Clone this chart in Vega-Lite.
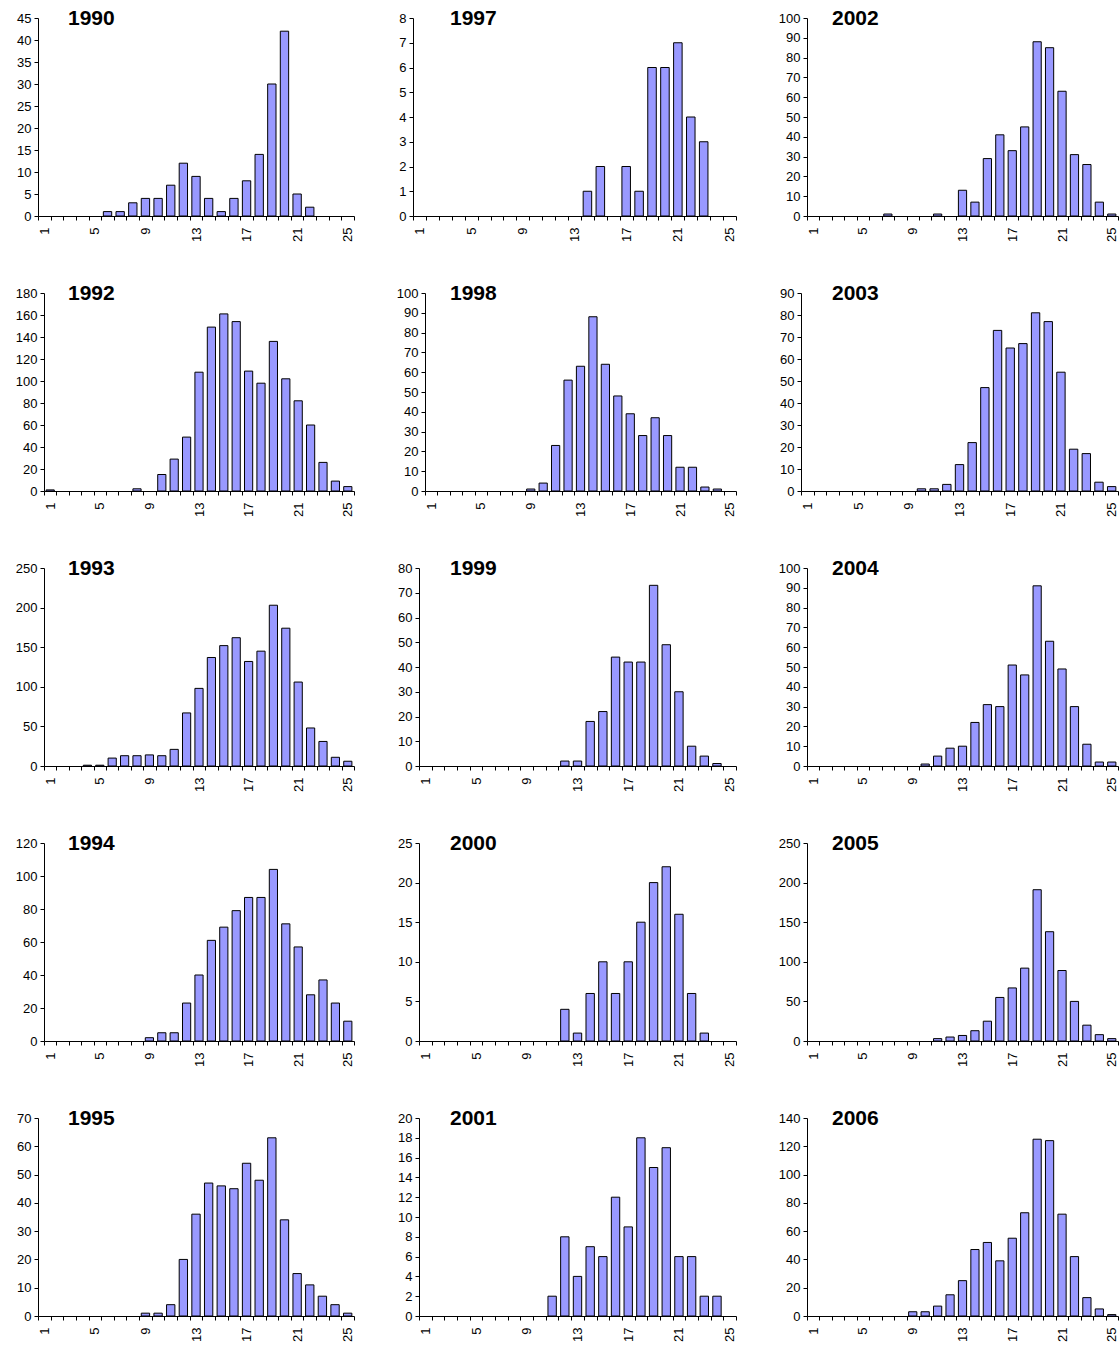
{
  "$schema": "https://vega.github.io/schema/vega-lite/v6.json",
  "padding": {"left": 2, "top": 8, "right": 0, "bottom": 0},
  "background": "#ffffff",
  "config": {
    "view": {"stroke": null},
    "font": "Liberation Sans",
    "axis": {"domainColor": "#000000", "tickColor": "#000000", "labelColor": "#000000", "grid": false, "labelFont": "Liberation Sans", "tickSize": 4, "domainWidth": 1, "tickWidth": 1, "title": null},
    "axisX": {"tickBand": "extent", "labelAngle": -90, "labelPadding": 7, "labelFontSize": 13, "minExtent": 30, "maxExtent": 30, "labelOverlap": false},
    "axisY": {"labelPadding": 3, "labelFontSize": 13},
    "title": {"anchor": "start", "frame": "group", "fontSize": 21, "fontWeight": "bold", "color": "#000000", "baseline": "alphabetic", "offset": -17, "font": "Liberation Sans"},
    "bar": {"fill": "#9999FF", "stroke": "#000000", "strokeWidth": 1}
  },
  "data": {"values": [
    {"year":1990,"bin":6,"count":1},{"year":1990,"bin":7,"count":1},{"year":1990,"bin":8,"count":3},{"year":1990,"bin":9,"count":4},{"year":1990,"bin":10,"count":4},{"year":1990,"bin":11,"count":7},{"year":1990,"bin":12,"count":12},{"year":1990,"bin":13,"count":9},{"year":1990,"bin":14,"count":4},{"year":1990,"bin":15,"count":1},{"year":1990,"bin":16,"count":4},{"year":1990,"bin":17,"count":8},{"year":1990,"bin":18,"count":14},{"year":1990,"bin":19,"count":30},{"year":1990,"bin":20,"count":42},{"year":1990,"bin":21,"count":5},{"year":1990,"bin":22,"count":2},
    {"year":1992,"bin":1,"count":1},{"year":1992,"bin":8,"count":2},{"year":1992,"bin":10,"count":15},{"year":1992,"bin":11,"count":29},{"year":1992,"bin":12,"count":49},{"year":1992,"bin":13,"count":108},{"year":1992,"bin":14,"count":149},{"year":1992,"bin":15,"count":161},{"year":1992,"bin":16,"count":154},{"year":1992,"bin":17,"count":109},{"year":1992,"bin":18,"count":98},{"year":1992,"bin":19,"count":136},{"year":1992,"bin":20,"count":102},{"year":1992,"bin":21,"count":82},{"year":1992,"bin":22,"count":60},{"year":1992,"bin":23,"count":26},{"year":1992,"bin":24,"count":9},{"year":1992,"bin":25,"count":4},
    {"year":1993,"bin":4,"count":1},{"year":1993,"bin":5,"count":1},{"year":1993,"bin":6,"count":10},{"year":1993,"bin":7,"count":13},{"year":1993,"bin":8,"count":13},{"year":1993,"bin":9,"count":14},{"year":1993,"bin":10,"count":13},{"year":1993,"bin":11,"count":21},{"year":1993,"bin":12,"count":67},{"year":1993,"bin":13,"count":98},{"year":1993,"bin":14,"count":137},{"year":1993,"bin":15,"count":152},{"year":1993,"bin":16,"count":162},{"year":1993,"bin":17,"count":132},{"year":1993,"bin":18,"count":145},{"year":1993,"bin":19,"count":203},{"year":1993,"bin":20,"count":174},{"year":1993,"bin":21,"count":106},{"year":1993,"bin":22,"count":48},{"year":1993,"bin":23,"count":31},{"year":1993,"bin":24,"count":11},{"year":1993,"bin":25,"count":6},
    {"year":1994,"bin":9,"count":2},{"year":1994,"bin":10,"count":5},{"year":1994,"bin":11,"count":5},{"year":1994,"bin":12,"count":23},{"year":1994,"bin":13,"count":40},{"year":1994,"bin":14,"count":61},{"year":1994,"bin":15,"count":69},{"year":1994,"bin":16,"count":79},{"year":1994,"bin":17,"count":87},{"year":1994,"bin":18,"count":87},{"year":1994,"bin":19,"count":104},{"year":1994,"bin":20,"count":71},{"year":1994,"bin":21,"count":57},{"year":1994,"bin":22,"count":28},{"year":1994,"bin":23,"count":37},{"year":1994,"bin":24,"count":23},{"year":1994,"bin":25,"count":12},
    {"year":1995,"bin":9,"count":1},{"year":1995,"bin":10,"count":1},{"year":1995,"bin":11,"count":4},{"year":1995,"bin":12,"count":20},{"year":1995,"bin":13,"count":36},{"year":1995,"bin":14,"count":47},{"year":1995,"bin":15,"count":46},{"year":1995,"bin":16,"count":45},{"year":1995,"bin":17,"count":54},{"year":1995,"bin":18,"count":48},{"year":1995,"bin":19,"count":63},{"year":1995,"bin":20,"count":34},{"year":1995,"bin":21,"count":15},{"year":1995,"bin":22,"count":11},{"year":1995,"bin":23,"count":7},{"year":1995,"bin":24,"count":4},{"year":1995,"bin":25,"count":1},
    {"year":1997,"bin":14,"count":1},{"year":1997,"bin":15,"count":2},{"year":1997,"bin":17,"count":2},{"year":1997,"bin":18,"count":1},{"year":1997,"bin":19,"count":6},{"year":1997,"bin":20,"count":6},{"year":1997,"bin":21,"count":7},{"year":1997,"bin":22,"count":4},{"year":1997,"bin":23,"count":3},
    {"year":1998,"bin":9,"count":1},{"year":1998,"bin":10,"count":4},{"year":1998,"bin":11,"count":23},{"year":1998,"bin":12,"count":56},{"year":1998,"bin":13,"count":63},{"year":1998,"bin":14,"count":88},{"year":1998,"bin":15,"count":64},{"year":1998,"bin":16,"count":48},{"year":1998,"bin":17,"count":39},{"year":1998,"bin":18,"count":28},{"year":1998,"bin":19,"count":37},{"year":1998,"bin":20,"count":28},{"year":1998,"bin":21,"count":12},{"year":1998,"bin":22,"count":12},{"year":1998,"bin":23,"count":2},{"year":1998,"bin":24,"count":1},
    {"year":1999,"bin":12,"count":2},{"year":1999,"bin":13,"count":2},{"year":1999,"bin":14,"count":18},{"year":1999,"bin":15,"count":22},{"year":1999,"bin":16,"count":44},{"year":1999,"bin":17,"count":42},{"year":1999,"bin":18,"count":42},{"year":1999,"bin":19,"count":73},{"year":1999,"bin":20,"count":49},{"year":1999,"bin":21,"count":30},{"year":1999,"bin":22,"count":8},{"year":1999,"bin":23,"count":4},{"year":1999,"bin":24,"count":1},
    {"year":2000,"bin":12,"count":4},{"year":2000,"bin":13,"count":1},{"year":2000,"bin":14,"count":6},{"year":2000,"bin":15,"count":10},{"year":2000,"bin":16,"count":6},{"year":2000,"bin":17,"count":10},{"year":2000,"bin":18,"count":15},{"year":2000,"bin":19,"count":20},{"year":2000,"bin":20,"count":22},{"year":2000,"bin":21,"count":16},{"year":2000,"bin":22,"count":6},{"year":2000,"bin":23,"count":1},
    {"year":2001,"bin":11,"count":2},{"year":2001,"bin":12,"count":8},{"year":2001,"bin":13,"count":4},{"year":2001,"bin":14,"count":7},{"year":2001,"bin":15,"count":6},{"year":2001,"bin":16,"count":12},{"year":2001,"bin":17,"count":9},{"year":2001,"bin":18,"count":18},{"year":2001,"bin":19,"count":15},{"year":2001,"bin":20,"count":17},{"year":2001,"bin":21,"count":6},{"year":2001,"bin":22,"count":6},{"year":2001,"bin":23,"count":2},{"year":2001,"bin":24,"count":2},
    {"year":2002,"bin":7,"count":1},{"year":2002,"bin":11,"count":1},{"year":2002,"bin":13,"count":13},{"year":2002,"bin":14,"count":7},{"year":2002,"bin":15,"count":29},{"year":2002,"bin":16,"count":41},{"year":2002,"bin":17,"count":33},{"year":2002,"bin":18,"count":45},{"year":2002,"bin":19,"count":88},{"year":2002,"bin":20,"count":85},{"year":2002,"bin":21,"count":63},{"year":2002,"bin":22,"count":31},{"year":2002,"bin":23,"count":26},{"year":2002,"bin":24,"count":7},{"year":2002,"bin":25,"count":1},
    {"year":2003,"bin":10,"count":1},{"year":2003,"bin":11,"count":1},{"year":2003,"bin":12,"count":3},{"year":2003,"bin":13,"count":12},{"year":2003,"bin":14,"count":22},{"year":2003,"bin":15,"count":47},{"year":2003,"bin":16,"count":73},{"year":2003,"bin":17,"count":65},{"year":2003,"bin":18,"count":67},{"year":2003,"bin":19,"count":81},{"year":2003,"bin":20,"count":77},{"year":2003,"bin":21,"count":54},{"year":2003,"bin":22,"count":19},{"year":2003,"bin":23,"count":17},{"year":2003,"bin":24,"count":4},{"year":2003,"bin":25,"count":2},
    {"year":2004,"bin":10,"count":1},{"year":2004,"bin":11,"count":5},{"year":2004,"bin":12,"count":9},{"year":2004,"bin":13,"count":10},{"year":2004,"bin":14,"count":22},{"year":2004,"bin":15,"count":31},{"year":2004,"bin":16,"count":30},{"year":2004,"bin":17,"count":51},{"year":2004,"bin":18,"count":46},{"year":2004,"bin":19,"count":91},{"year":2004,"bin":20,"count":63},{"year":2004,"bin":21,"count":49},{"year":2004,"bin":22,"count":30},{"year":2004,"bin":23,"count":11},{"year":2004,"bin":24,"count":2},{"year":2004,"bin":25,"count":2},
    {"year":2005,"bin":11,"count":3},{"year":2005,"bin":12,"count":5},{"year":2005,"bin":13,"count":7},{"year":2005,"bin":14,"count":13},{"year":2005,"bin":15,"count":25},{"year":2005,"bin":16,"count":55},{"year":2005,"bin":17,"count":67},{"year":2005,"bin":18,"count":92},{"year":2005,"bin":19,"count":191},{"year":2005,"bin":20,"count":138},{"year":2005,"bin":21,"count":89},{"year":2005,"bin":22,"count":50},{"year":2005,"bin":23,"count":20},{"year":2005,"bin":24,"count":8},{"year":2005,"bin":25,"count":3},
    {"year":2006,"bin":9,"count":3},{"year":2006,"bin":10,"count":3},{"year":2006,"bin":11,"count":7},{"year":2006,"bin":12,"count":15},{"year":2006,"bin":13,"count":25},{"year":2006,"bin":14,"count":47},{"year":2006,"bin":15,"count":52},{"year":2006,"bin":16,"count":39},{"year":2006,"bin":17,"count":55},{"year":2006,"bin":18,"count":73},{"year":2006,"bin":19,"count":125},{"year":2006,"bin":20,"count":124},{"year":2006,"bin":21,"count":72},{"year":2006,"bin":22,"count":42},{"year":2006,"bin":23,"count":13},{"year":2006,"bin":24,"count":5},{"year":2006,"bin":25,"count":1}
  ]},
  "spacing": 22,
  "hconcat": [
    {"spacing": 37, "vconcat": [
      {"title": {"text": "1990", "dx": 30}, "width": 316, "height": 198, "transform": [{"filter": "datum.year == 1990"}], "mark": {"type": "bar", "width": {"band": 0.66}},
       "encoding": {"x": {"field": "bin", "type": "ordinal", "scale": {"domain": [1,2,3,4,5,6,7,8,9,10,11,12,13,14,15,16,17,18,19,20,21,22,23,24,25], "range": [0, 316], "paddingInner": 0, "paddingOuter": 0}, "axis": {"labelExpr": "(datum.value - 1) % 4 == 0 ? datum.label : ''"}},
        "y": {"field": "count", "type": "quantitative", "scale": {"domain": [0, 45], "nice": false}, "axis": {"values": [0,5,10,15,20,25,30,35,40,45], "offset": 0, "minExtent": 36}}}},
      {"title": {"text": "1992", "dx": 30}, "width": 316, "height": 198, "transform": [{"filter": "datum.year == 1992"}], "mark": {"type": "bar", "width": {"band": 0.66}},
       "encoding": {"x": {"field": "bin", "type": "ordinal", "scale": {"domain": [1,2,3,4,5,6,7,8,9,10,11,12,13,14,15,16,17,18,19,20,21,22,23,24,25], "range": [6, 316], "paddingInner": 0, "paddingOuter": 0}, "axis": {"labelExpr": "(datum.value - 1) % 4 == 0 ? datum.label : ''"}},
        "y": {"field": "count", "type": "quantitative", "scale": {"domain": [0, 180], "nice": false}, "axis": {"values": [0,20,40,60,80,100,120,140,160,180], "offset": -6, "minExtent": 36}}}},
      {"title": {"text": "1993", "dx": 30}, "width": 316, "height": 198, "transform": [{"filter": "datum.year == 1993"}], "mark": {"type": "bar", "width": {"band": 0.66}},
       "encoding": {"x": {"field": "bin", "type": "ordinal", "scale": {"domain": [1,2,3,4,5,6,7,8,9,10,11,12,13,14,15,16,17,18,19,20,21,22,23,24,25], "range": [6, 316], "paddingInner": 0, "paddingOuter": 0}, "axis": {"labelExpr": "(datum.value - 1) % 4 == 0 ? datum.label : ''"}},
        "y": {"field": "count", "type": "quantitative", "scale": {"domain": [0, 250], "nice": false}, "axis": {"values": [0,50,100,150,200,250], "offset": -6, "minExtent": 36}}}},
      {"title": {"text": "1994", "dx": 30}, "width": 316, "height": 198, "transform": [{"filter": "datum.year == 1994"}], "mark": {"type": "bar", "width": {"band": 0.66}},
       "encoding": {"x": {"field": "bin", "type": "ordinal", "scale": {"domain": [1,2,3,4,5,6,7,8,9,10,11,12,13,14,15,16,17,18,19,20,21,22,23,24,25], "range": [6, 316], "paddingInner": 0, "paddingOuter": 0}, "axis": {"labelExpr": "(datum.value - 1) % 4 == 0 ? datum.label : ''"}},
        "y": {"field": "count", "type": "quantitative", "scale": {"domain": [0, 120], "nice": false}, "axis": {"values": [0,20,40,60,80,100,120], "offset": -6, "minExtent": 36}}}},
      {"title": {"text": "1995", "dx": 30}, "width": 316, "height": 198, "transform": [{"filter": "datum.year == 1995"}], "mark": {"type": "bar", "width": {"band": 0.66}},
       "encoding": {"x": {"field": "bin", "type": "ordinal", "scale": {"domain": [1,2,3,4,5,6,7,8,9,10,11,12,13,14,15,16,17,18,19,20,21,22,23,24,25], "range": [0, 316], "paddingInner": 0, "paddingOuter": 0}, "axis": {"labelExpr": "(datum.value - 1) % 4 == 0 ? datum.label : ''"}},
        "y": {"field": "count", "type": "quantitative", "scale": {"domain": [0, 70], "nice": false}, "axis": {"values": [0,10,20,30,40,50,60,70], "offset": 0, "minExtent": 36}}}}
    ]},
    {"spacing": 37, "vconcat": [
      {"title": {"text": "1997", "dx": 37}, "width": 323, "height": 198, "transform": [{"filter": "datum.year == 1997"}], "mark": {"type": "bar", "width": {"band": 0.66}},
       "encoding": {"x": {"field": "bin", "type": "ordinal", "scale": {"domain": [1,2,3,4,5,6,7,8,9,10,11,12,13,14,15,16,17,18,19,20,21,22,23,24,25], "range": [0, 323], "paddingInner": 0, "paddingOuter": 0}, "axis": {"labelExpr": "(datum.value - 1) % 4 == 0 ? datum.label : ''"}},
        "y": {"field": "count", "type": "quantitative", "scale": {"domain": [0, 8], "nice": false}, "axis": {"values": [0,1,2,3,4,5,6,7,8], "offset": 0, "minExtent": 36}}}},
      {"title": {"text": "1998", "dx": 37}, "width": 323, "height": 198, "transform": [{"filter": "datum.year == 1998"}], "mark": {"type": "bar", "width": {"band": 0.66}},
       "encoding": {"x": {"field": "bin", "type": "ordinal", "scale": {"domain": [1,2,3,4,5,6,7,8,9,10,11,12,13,14,15,16,17,18,19,20,21,22,23,24,25], "range": [12, 323], "paddingInner": 0, "paddingOuter": 0}, "axis": {"labelExpr": "(datum.value - 1) % 4 == 0 ? datum.label : ''"}},
        "y": {"field": "count", "type": "quantitative", "scale": {"domain": [0, 100], "nice": false}, "axis": {"values": [0,10,20,30,40,50,60,70,80,90,100], "offset": -12, "minExtent": 36}}}},
      {"title": {"text": "1999", "dx": 37}, "width": 323, "height": 198, "transform": [{"filter": "datum.year == 1999"}], "mark": {"type": "bar", "width": {"band": 0.66}},
       "encoding": {"x": {"field": "bin", "type": "ordinal", "scale": {"domain": [1,2,3,4,5,6,7,8,9,10,11,12,13,14,15,16,17,18,19,20,21,22,23,24,25], "range": [6, 323], "paddingInner": 0, "paddingOuter": 0}, "axis": {"labelExpr": "(datum.value - 1) % 4 == 0 ? datum.label : ''"}},
        "y": {"field": "count", "type": "quantitative", "scale": {"domain": [0, 80], "nice": false}, "axis": {"values": [0,10,20,30,40,50,60,70,80], "offset": -6, "minExtent": 36}}}},
      {"title": {"text": "2000", "dx": 37}, "width": 323, "height": 198, "transform": [{"filter": "datum.year == 2000"}], "mark": {"type": "bar", "width": {"band": 0.66}},
       "encoding": {"x": {"field": "bin", "type": "ordinal", "scale": {"domain": [1,2,3,4,5,6,7,8,9,10,11,12,13,14,15,16,17,18,19,20,21,22,23,24,25], "range": [6, 323], "paddingInner": 0, "paddingOuter": 0}, "axis": {"labelExpr": "(datum.value - 1) % 4 == 0 ? datum.label : ''"}},
        "y": {"field": "count", "type": "quantitative", "scale": {"domain": [0, 25], "nice": false}, "axis": {"values": [0,5,10,15,20,25], "offset": -6, "minExtent": 36}}}},
      {"title": {"text": "2001", "dx": 37}, "width": 323, "height": 198, "transform": [{"filter": "datum.year == 2001"}], "mark": {"type": "bar", "width": {"band": 0.66}},
       "encoding": {"x": {"field": "bin", "type": "ordinal", "scale": {"domain": [1,2,3,4,5,6,7,8,9,10,11,12,13,14,15,16,17,18,19,20,21,22,23,24,25], "range": [6, 323], "paddingInner": 0, "paddingOuter": 0}, "axis": {"labelExpr": "(datum.value - 1) % 4 == 0 ? datum.label : ''"}},
        "y": {"field": "count", "type": "quantitative", "scale": {"domain": [0, 20], "nice": false}, "axis": {"values": [0,2,4,6,8,10,12,14,16,18,20], "offset": -6, "minExtent": 36}}}}
    ]},
    {"spacing": 37, "vconcat": [
      {"title": {"text": "2002", "dx": 31}, "width": 317, "height": 198, "transform": [{"filter": "datum.year == 2002"}], "mark": {"type": "bar", "width": {"band": 0.66}},
       "encoding": {"x": {"field": "bin", "type": "ordinal", "scale": {"domain": [1,2,3,4,5,6,7,8,9,10,11,12,13,14,15,16,17,18,19,20,21,22,23,24,25], "range": [6, 317], "paddingInner": 0, "paddingOuter": 0}, "axis": {"labelExpr": "(datum.value - 1) % 4 == 0 ? datum.label : ''"}},
        "y": {"field": "count", "type": "quantitative", "scale": {"domain": [0, 100], "nice": false}, "axis": {"values": [0,10,20,30,40,50,60,70,80,90,100], "offset": -6, "minExtent": 42}}}},
      {"title": {"text": "2003", "dx": 31}, "width": 317, "height": 198, "transform": [{"filter": "datum.year == 2003"}], "mark": {"type": "bar", "width": {"band": 0.66}},
       "encoding": {"x": {"field": "bin", "type": "ordinal", "scale": {"domain": [1,2,3,4,5,6,7,8,9,10,11,12,13,14,15,16,17,18,19,20,21,22,23,24,25], "range": [0, 317], "paddingInner": 0, "paddingOuter": 0}, "axis": {"labelExpr": "(datum.value - 1) % 4 == 0 ? datum.label : ''"}},
        "y": {"field": "count", "type": "quantitative", "scale": {"domain": [0, 90], "nice": false}, "axis": {"values": [0,10,20,30,40,50,60,70,80,90], "offset": 0, "minExtent": 42}}}},
      {"title": {"text": "2004", "dx": 31}, "width": 317, "height": 198, "transform": [{"filter": "datum.year == 2004"}], "mark": {"type": "bar", "width": {"band": 0.66}},
       "encoding": {"x": {"field": "bin", "type": "ordinal", "scale": {"domain": [1,2,3,4,5,6,7,8,9,10,11,12,13,14,15,16,17,18,19,20,21,22,23,24,25], "range": [6, 317], "paddingInner": 0, "paddingOuter": 0}, "axis": {"labelExpr": "(datum.value - 1) % 4 == 0 ? datum.label : ''"}},
        "y": {"field": "count", "type": "quantitative", "scale": {"domain": [0, 100], "nice": false}, "axis": {"values": [0,10,20,30,40,50,60,70,80,90,100], "offset": -6, "minExtent": 42}}}},
      {"title": {"text": "2005", "dx": 31}, "width": 317, "height": 198, "transform": [{"filter": "datum.year == 2005"}], "mark": {"type": "bar", "width": {"band": 0.66}},
       "encoding": {"x": {"field": "bin", "type": "ordinal", "scale": {"domain": [1,2,3,4,5,6,7,8,9,10,11,12,13,14,15,16,17,18,19,20,21,22,23,24,25], "range": [6, 317], "paddingInner": 0, "paddingOuter": 0}, "axis": {"labelExpr": "(datum.value - 1) % 4 == 0 ? datum.label : ''"}},
        "y": {"field": "count", "type": "quantitative", "scale": {"domain": [0, 250], "nice": false}, "axis": {"values": [0,50,100,150,200,250], "offset": -6, "minExtent": 42}}}},
      {"title": {"text": "2006", "dx": 31}, "width": 317, "height": 198, "transform": [{"filter": "datum.year == 2006"}], "mark": {"type": "bar", "width": {"band": 0.66}},
       "encoding": {"x": {"field": "bin", "type": "ordinal", "scale": {"domain": [1,2,3,4,5,6,7,8,9,10,11,12,13,14,15,16,17,18,19,20,21,22,23,24,25], "range": [6, 317], "paddingInner": 0, "paddingOuter": 0}, "axis": {"labelExpr": "(datum.value - 1) % 4 == 0 ? datum.label : ''"}},
        "y": {"field": "count", "type": "quantitative", "scale": {"domain": [0, 140], "nice": false}, "axis": {"values": [0,20,40,60,80,100,120,140], "offset": -6, "minExtent": 42}}}}
    ]}
  ]
}
